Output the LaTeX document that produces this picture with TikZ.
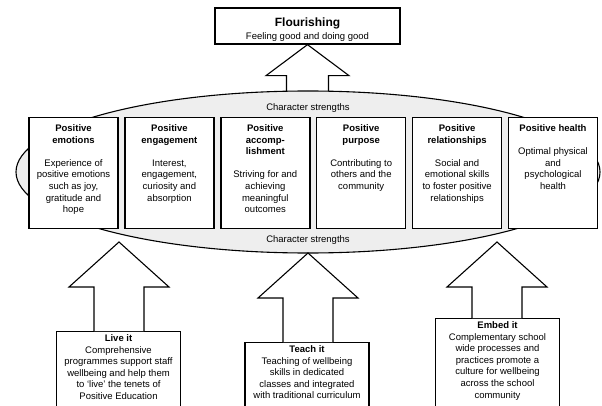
\documentclass[tikz,border=0pt]{standalone}
\usepackage{fontspec}
\setmainfont{Liberation Sans}
\usepackage{tikz}
\usetikzlibrary{shapes.geometric,positioning,calc}
\definecolor{csgray}{RGB}{238,238,238}
\tikzstyle{topblock}=[rectangle, draw, line width=1.3pt, fill=white, align=center, minimum width=185pt, minimum height=34pt, inner sep=3pt]
\tikzstyle{cellblock}=[rectangle, draw, line width=1.4pt, fill=white, anchor=north, inner xsep=3pt, inner ysep=7pt]
\tikzstyle{baseblock}=[rectangle, draw, line width=1.3pt, fill=white, anchor=north, inner xsep=3pt, inner ysep=3pt]
\tikzstyle{fatline}=[draw, line width=1.1pt, fill=white, line join=miter]
\newcommand{\celltext}[2]{\parbox[c][97pt][t]{83pt}{\centering\textbf{#1}\\[11.6pt]#2}}
\newcommand{\basetext}[3]{\parbox[c][#1][t]{118pt}{\centering\textbf{#2}\\#3}}
\newcommand{\fatarrow}[5]{\draw[fatline] let \p1=(#1), \p2=(#2) in
  (\x2-#3,\y1) -- (\x2-#3,\y2-#5) -- (\x2-#4,\y2-#5) -- (\x2,\y2)
  -- (\x2+#4,\y2-#5) -- (\x2+#3,\y2-#5) -- (\x2+#3,\y1);}

\begin{document}
\begin{tikzpicture}[x=1pt,y=-1pt,every node/.style={font=\fontsize{9.5}{11.6}\selectfont}]
\clip (0,0) rectangle (602,406);

\node[topblock](flour) at (307.5,26) {\parbox[c][28pt][b]{179pt}{\centering{\fontsize{12}{14}\selectfont\bfseries Flourishing}\\[1pt]Feeling good and doing good}};
\coordinate (csbase) at (307,100);
\fatarrow{csbase}{flour.south}{21pt}{41.5pt}{31pt}

\node[ellipse, draw, line width=1.1pt, fill=csgray, minimum width=584pt, minimum height=162pt, inner sep=0pt](cs) at (308,172) {};
\node(cstop) at (308,108) {Character strengths};
\node(csbot) at (308,240) {Character strengths};

\node[cellblock](pe) at (73.5,117) {\celltext{Positive\\emotions}{Experience of\\positive emotions\\such as joy,\\gratitude and\\hope}};
\node[cellblock, anchor=west, right=5.5pt of pe](pg) {\celltext{Positive\\engagement}{Interest,\\engagement,\\curiosity and\\absorption}};
\node[cellblock, anchor=west, right=5.5pt of pg](pa) {\celltext{Positive\\accomp-\\lishment}{Striving for and\\achieving\\meaningful\\outcomes}};
\node[cellblock, anchor=west, right=5.5pt of pa](pp) {\celltext{Positive\\purpose}{Contributing to\\others and the\\community}};
\node[cellblock, anchor=west, right=5.5pt of pp](pr) {\celltext{Positive\\relationships}{Social and\\emotional skills\\to foster positive\\relationships}};
\node[cellblock, anchor=west, right=5.5pt of pr](ph) {\celltext{Positive health}{Optimal physical\\and\\psychological\\health}};

\node[baseblock](live) at (118.5,331) {\basetext{100pt}{Live it}{Comprehensive\\programmes support staff\\wellbeing and help them\\to ‘live’ the tenets of\\Positive Education}};
\node[baseblock](teach) at (307,342) {\basetext{90pt}{Teach it}{Teaching of wellbeing\\skills in dedicated\\classes and integrated\\with traditional curriculum}};
\node[baseblock](embed) at (497.5,318) {\basetext{110pt}{Embed it}{Complementary school\\wide processes and\\practices promote a\\culture for wellbeing\\across the school\\community}};

\coordinate (livetip) at (119,242);
\coordinate (teachtip) at (308,253);
\coordinate (embedtip) at (497,242);
\fatarrow{live.north}{livetip}{25pt}{50pt}{45pt}
\fatarrow{teach.north}{teachtip}{25pt}{50pt}{45pt}
\fatarrow{embed.north}{embedtip}{25pt}{50pt}{45pt}

\end{tikzpicture}
\end{document}
